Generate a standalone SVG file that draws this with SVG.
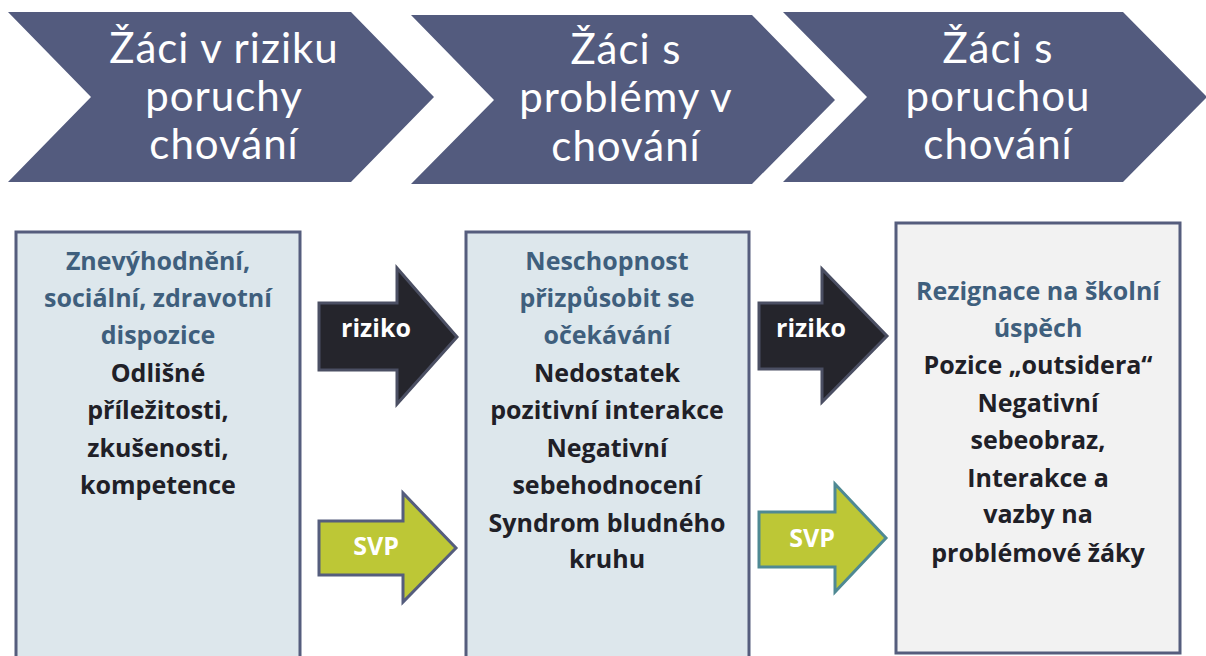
<svg xmlns="http://www.w3.org/2000/svg" width="1206" height="656" viewBox="0 0 1206 656">
<style>
.chev{fill:#535b7e}
.ct{font-family:Lato,"Open Sans",sans-serif;font-size:42px;letter-spacing:1px;fill:#ffffff;text-anchor:middle}
.box{fill:#dde7ec;stroke:#555d7d;stroke-width:3}
.box3{fill:#f2f2f2;stroke:#555d7d;stroke-width:3}
.bt{font-family:"Open Sans","Noto Sans",sans-serif;font-size:25px;font-weight:bold;text-anchor:middle}
.h{fill:#3f5f7d}
.k{fill:#202027}
.ar{fill:#25252c;stroke:#4b4f63;stroke-width:3}
.sv{fill:#bdc736;stroke:#555d7d;stroke-width:3}
.sv2{fill:#bdc736;stroke:#4f8993;stroke-width:3}
.at{font-family:"Open Sans","Noto Sans",sans-serif;font-size:25px;font-weight:bold;fill:#ffffff;text-anchor:middle}
</style>
<g id="stage1">
<path class="chev" d="M8,12 L351,12 L434,97 L351,182 L8,182 L91,97 Z"/>
<text class="ct" x="224" y="63">Žáci v riziku</text>
<text class="ct" x="224" y="111">poruchy</text>
<text class="ct" x="224" y="159">chování</text>
</g>
<g id="stage2">
<path class="chev" d="M411,15 L752,15 L835,100 L752,184 L411,184 L494,100 Z"/>
<text class="ct" x="626" y="64">Žáci s</text>
<text class="ct" x="626" y="112">problémy v</text>
<text class="ct" x="626" y="161">chování</text>
</g>
<g id="stage3">
<path class="chev" d="M783,12 L1123,12 L1207,97 L1123,182 L783,182 L867,97 Z"/>
<text class="ct" x="998" y="63">Žáci s</text>
<text class="ct" x="998" y="111">poruchou</text>
<text class="ct" x="998" y="159">chování</text>
</g>
<g id="box1">
<rect class="box" x="16" y="232" width="284" height="440"/>
<text class="bt h" x="158" y="270">Znevýhodnění,</text>
<text class="bt h" x="158" y="307">sociální, zdravotní</text>
<text class="bt h" x="158" y="344">dispozice</text>
<text class="bt k" x="158" y="382">Odlišné</text>
<text class="bt k" x="158" y="419">příležitosti,</text>
<text class="bt k" x="158" y="457">zkušenosti,</text>
<text class="bt k" x="158" y="494">kompetence</text>
</g>
<g id="box2">
<rect class="box" x="466" y="232" width="283" height="440"/>
<text class="bt h" x="607" y="270">Neschopnost</text>
<text class="bt h" x="607" y="307">přizpůsobit se</text>
<text class="bt h" x="607" y="344">očekávání</text>
<text class="bt k" x="607" y="382">Nedostatek</text>
<text class="bt k" x="607" y="419">pozitivní interakce</text>
<text class="bt k" x="607" y="457">Negativní</text>
<text class="bt k" x="607" y="494">sebehodnocení</text>
<text class="bt k" x="607" y="532">Syndrom bludného</text>
<text class="bt k" x="607" y="568">kruhu</text>
</g>
<g id="box3">
<rect class="box3" x="896" y="223" width="284" height="430"/>
<text class="bt h" x="1038" y="300">Rezignace na školní</text>
<text class="bt h" x="1038" y="337">úspěch</text>
<text class="bt k" x="1038" y="374">Pozice „outsidera“</text>
<text class="bt k" x="1038" y="412">Negativní</text>
<text class="bt k" x="1038" y="449">sebeobraz,</text>
<text class="bt k" x="1038" y="487">Interakce a</text>
<text class="bt k" x="1038" y="523">vazby na</text>
<text class="bt k" x="1038" y="562">problémové žáky</text>
</g>
<g id="connectors">
<g id="riziko1">
<path class="ar" d="M319,303 L397,303 L397,268 L457,337 L397,404 L397,370 L319,370 Z"/>
<text class="at" x="376" y="337">riziko</text>
</g>
<g id="svp1">
<path class="sv" d="M319,521 L403,521 L403,493 L456,548 L403,602 L403,575 L319,575 Z"/>
<text class="at" x="376" y="555">SVP</text>
</g>
<g id="riziko2">
<path class="ar" d="M759,303 L822,303 L822,269 L887,336 L822,402 L822,369 L759,369 Z"/>
<text class="at" x="811" y="337">riziko</text>
</g>
<g id="svp2">
<path class="sv2" d="M759,512 L835,512 L835,484 L886,538 L835,592 L835,567 L759,567 Z"/>
<text class="at" x="812" y="547">SVP</text>
</g>
</g>
</svg>
